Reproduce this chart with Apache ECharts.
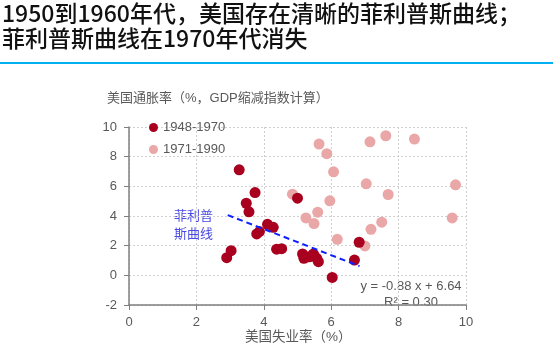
<!DOCTYPE html>
<html>
<head>
<meta charset="utf-8">
<script src="https://cdn.jsdelivr.net/npm/echarts@6/dist/echarts.min.js"></script>
<style>
  html, body { margin: 0; padding: 0; background: #fff; }
  #title { position: absolute; left: 2px; top: 0; font-family: 'Noto Sans CJK SC', sans-serif; font-weight: 500; font-size: 23px; line-height: 25px; color: #111; }
  #rule { position: absolute; left: 0; top: 62px; width: 553px; height: 2px; background: #00b0f0; }
  #myChart { position: absolute; left: 0; top: 0; width: 553px; height: 351px; }
</style>
</head>
<body>
<div id="myChart"></div>
<div id="title">1950到1960年代，美国存在清晰的菲利普斯曲线；<br>菲利普斯曲线在1970年代消失</div>
<div id="rule"></div>
<script>
// 1948-1970：失业率 / 通胀率
var x1 = [3.27, 3.74, 3.48, 3.56, 4.11, 4.28, 3.79, 3.87, 2.90, 3.03, 4.38, 4.53, 5.00, 5.15, 5.19, 5.47, 5.57, 5.62, 6.03, 6.83, 6.69, 5.50, 5.35]
var y1 = [7.11, 5.58, 4.86, 4.28, 3.44, 3.24, 2.79, 2.95, 1.19, 1.66, 1.76, 1.80, 5.20, 1.44, 1.15, 1.44, 1.15, 0.92, -0.14, 2.23, 1.03, 1.30, 1.25]
// 1971-1990
var x2 = [5.64, 5.87, 7.15, 7.62, 8.47, 6.07, 7.04, 9.69, 4.85, 7.69, 5.96, 5.60, 5.25, 5.49, 7.50, 7.18, 9.59, 6.18, 7.00]
var y2 = [8.85, 8.20, 9.00, 9.41, 9.19, 6.98, 6.17, 6.10, 5.47, 5.45, 5.02, 4.26, 3.87, 3.49, 3.58, 3.10, 3.87, 2.43, 1.98]
// 趋势线端点
var trendX = [2.93, 6.84]
var trendY = [4.06, 0.62]

var xTicks = [0, 2, 4, 6, 8, 10]
var yTicks = [-2, 0, 2, 4, 6, 8, 10]

function pairs (xs, ys) {
  var out = []
  for (var i = 0; i < xs.length; i++) out.push([xs[i], ys[i]])
  return out
}

var gray = '#595959'
var font = 'Liberation Sans'
var cjk = "'Liberation Sans', 'Noto Sans CJK SC', sans-serif"

var myChart = echarts.init(document.getElementById('myChart'))
myChart.setOption({
  animation: false,
  grid: { left: 129, right: 87, top: 127, bottom: 46 },
  legend: {
    orient: 'vertical',
    left: 144,
    top: 116,
    itemWidth: 9,
    itemHeight: 9,
    itemGap: 9,
    icon: 'circle',
    textStyle: { color: gray, fontSize: 13, fontFamily: font },
    data: ['1948-1970', '1971-1990']
  },
  xAxis: [
    {
      type: 'value',
      min: xTicks[0],
      max: xTicks[xTicks.length - 1],
      interval: 2,
      axisLine: { show: false },
      axisTick: { show: false },
      axisLabel: { color: gray, fontSize: 13, fontFamily: font, margin: 11 },
      splitLine: { show: true, lineStyle: { color: '#d0d0d0', type: [2, 2] } }
    },
    {
      type: 'value',
      min: xTicks[0],
      max: xTicks[xTicks.length - 1],
      interval: 2,
      position: 'bottom',
      axisLine: { show: true, onZero: true, lineStyle: { color: '#7f7f7f', width: 1.5 } },
      axisTick: { show: true, length: 5, lineStyle: { color: '#7f7f7f' } },
      axisLabel: { show: false },
      splitLine: { show: false }
    }
  ],
  yAxis: {
    type: 'value',
    min: yTicks[0],
    max: yTicks[yTicks.length - 1],
    interval: 2,
    axisLine: { show: true, lineStyle: { color: '#7f7f7f', width: 1.5 } },
    axisTick: { show: true, length: 5, lineStyle: { color: '#7f7f7f' } },
    axisLabel: { color: gray, fontSize: 13, fontFamily: font, margin: 12 },
    splitLine: { show: true, lineStyle: { color: '#d0d0d0', type: [2, 2] } }
  },
  series: [
    {
      name: '1971-1990',
      type: 'scatter',
      symbolSize: 11,
      itemStyle: { color: '#eaa7a7', opacity: 1 },
      data: pairs(x2, y2),
      z: 2
    },
    {
      name: '1948-1970',
      type: 'scatter',
      symbolSize: 11,
      itemStyle: { color: '#a8001e', opacity: 1 },
      data: pairs(x1, y1),
      z: 3
    },
    {
      name: 'trend',
      type: 'line',
      symbol: 'none',
      lineStyle: { color: '#1020ff', width: 2, type: [6, 4] },
      data: pairs(trendX, trendY),
      z: 4
    }
  ],
  graphic: [
    {
      type: 'text', left: 107, top: 92,
      style: { text: '美国通胀率（%，GDP缩减指数计算）', fill: gray, fontSize: 13, fontFamily: cjk }
    },
    {
      type: 'text', left: 245, top: 331,
      style: { text: '美国失业率（%）', fill: gray, fontSize: 13.5, fontFamily: cjk }
    },
    {
      type: 'text', left: 174, top: 207,
      style: { text: '菲利普\n斯曲线', fill: '#4a4ae6', fontSize: 13, fontFamily: cjk, lineHeight: 18 }
    },
    {
      type: 'text', x: 411, y: 278,
      style: { text: 'y = -0.88 x + 6.64\nR² = 0.30', fill: gray, fontSize: 13, fontFamily: font, align: 'center', lineHeight: 16 }
    }
  ]
})
</script>
</body>
</html>
